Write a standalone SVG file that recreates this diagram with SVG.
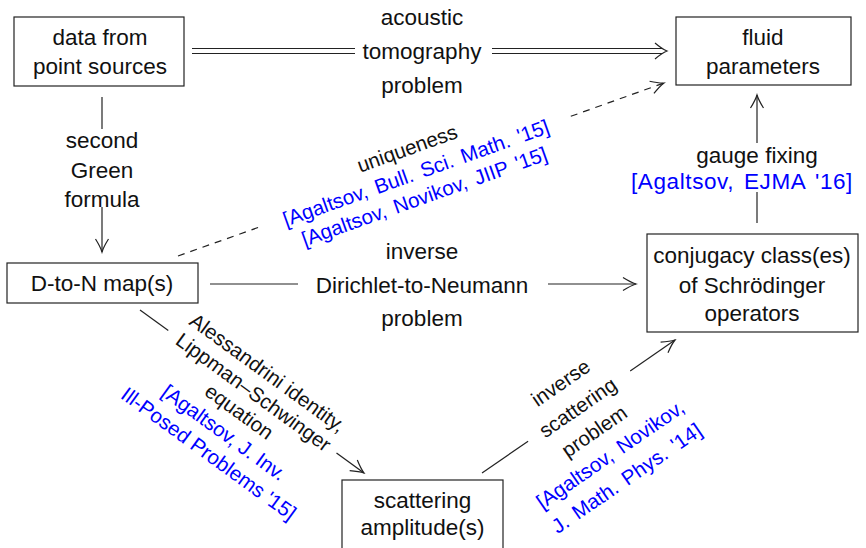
<svg xmlns="http://www.w3.org/2000/svg" width="866" height="548" viewBox="0 0 866 548">
<style>
  .box { fill: #fff; stroke: #222; stroke-width: 1.2; }
  .t { font-family: "Liberation Sans", Arial, sans-serif; font-size: 22.5px; fill: #111; text-anchor: middle; dominant-baseline: central; }
  .r { font-family: "Liberation Sans", Arial, sans-serif; font-size: 20.5px; fill: #111; text-anchor: middle; dominant-baseline: central; }
  .b { fill: #0000ff; }
  .ws { word-spacing: 3px; }
  .ln { fill: none; stroke: #222; stroke-width: 1.2; }
  .dash { stroke-dasharray: 7 6; }
</style>
<defs>
  <marker id="arr" viewBox="-15 -8 17 16" refX="0" refY="0" markerWidth="17" markerHeight="16" markerUnits="userSpaceOnUse" orient="auto">
    <path d="M-13,-6.5 Q-5,-1.5 0,0 Q-5,1.5 -13,6.5" fill="none" stroke="#222" stroke-width="1.2" stroke-dasharray="none"/>
  </marker>
</defs>

<g id="connectors">
  <g id="c-acoustic">
    <path class="ln" d="M192,48.5 H355 M192,53.5 H355 M492,48.5 H662 M492,53.5 H662"/>
    <path class="ln" d="M655,43 Q662,49 667,51 Q662,53 655,59"/>
    <text class="t" x="422" y="17">acoustic</text>
    <text class="t" x="422" y="51">tomography</text>
    <text class="t" x="422" y="85">problem</text>
  </g>
  <g id="c-green">
    <path class="ln" d="M102,97 V129"/>
    <path class="ln" d="M102,207 V252" marker-end="url(#arr)"/>
    <text class="t" x="102" y="140">second</text>
    <text class="t" x="102" y="170">Green</text>
    <text class="t" x="102" y="199">formula</text>
  </g>
  <g id="c-unique">
    <path class="ln dash" d="M178,256 L258.1,227.5"/>
    <path class="ln dash" d="M570.8,116.3 L664,83" marker-end="url(#arr)"/>
    <g transform="translate(415.4,171.6) rotate(-19.6)">
      <text class="r" x="0" y="-25">uniqueness</text>
      <text class="r b ws" x="0" y="1">[Agaltsov, Bull. Sci. Math. '15]</text>
      <text class="r b ws" x="0" y="26">[Agaltsov, Novikov, JIIP '15]</text>
    </g>
  </g>
  <g id="c-dtn">
    <path class="ln" d="M210,284 H298"/>
    <path class="ln" d="M548,284 H636" marker-end="url(#arr)"/>
    <text class="t" x="422" y="251">inverse</text>
    <text class="t" x="422" y="285">Dirichlet-to-Neumann</text>
    <text class="t" x="422" y="318">problem</text>
  </g>
  <g id="c-gauge">
    <path class="ln" d="M757,223 V192"/>
    <path class="ln" d="M757,143 V95" marker-end="url(#arr)"/>
    <text class="t" x="757" y="155">gauge fixing</text>
    <text class="t b" x="742" y="181" style="letter-spacing:0.6px;word-spacing:3px">[Agaltsov, EJMA '16]</text>
  </g>
  <g id="c-alessandrini">
    <path class="ln" d="M140,310 L168.3,330.6"/>
    <path class="ln" d="M336.5,453 L364,473" marker-end="url(#arr)"/>
    <g transform="translate(253.7,391.8) rotate(36)">
      <text class="r" x="0" y="-24">Alessandrini identity,</text>
      <text class="r" x="0" y="0">Lippman–Schwinger</text>
      <text class="r" x="0" y="24">equation</text>
      <text class="r b" x="0" y="50">[Agaltsov, J. Inv.</text>
      <text class="r b" x="0" y="76">Ill-Posed Problems '15]</text>
    </g>
  </g>
  <g id="c-scattering">
    <path class="ln" d="M482,473 L528.1,441.2"/>
    <path class="ln" d="M630.2,370.9 L675,340" marker-end="url(#arr)"/>
    <g transform="translate(577.5,407.1) rotate(-34.6)">
      <text class="r" x="0" y="-30">inverse</text>
      <text class="r" x="0" y="0">scattering</text>
      <text class="r" x="0" y="29">problem</text>
      <text class="r b ws" x="0" y="57">[Agaltsov, Novikov,</text>
      <text class="r b ws" x="0" y="86">J. Math. Phys. '14]</text>
    </g>
  </g>
</g>

<g id="n-data">
  <rect class="box" x="14" y="17" width="170" height="69"/>
  <text class="t" x="100" y="37">data from</text>
  <text class="t" x="100" y="66">point sources</text>
</g>
<g id="n-fluid">
  <rect class="box" x="676" y="17" width="175" height="68"/>
  <text class="t" x="763" y="37">fluid</text>
  <text class="t" x="763" y="66">parameters</text>
</g>
<g id="n-dtn">
  <rect class="box" x="7" y="263" width="191" height="40"/>
  <text class="t" x="102" y="283">D-to-N map(s)</text>
</g>
<g id="n-conj">
  <rect class="box" x="647" y="234" width="211" height="98"/>
  <text class="t" x="752" y="255">conjugacy class(es)</text>
  <text class="t" x="752" y="285">of Schrödinger</text>
  <text class="t" x="752" y="313">operators</text>
</g>
<g id="n-scat">
  <rect class="box" x="342" y="480" width="161" height="80"/>
  <text class="t" x="422.5" y="500">scattering</text>
  <text class="t" x="422.5" y="527">amplitude(s)</text>
</g>
</svg>
